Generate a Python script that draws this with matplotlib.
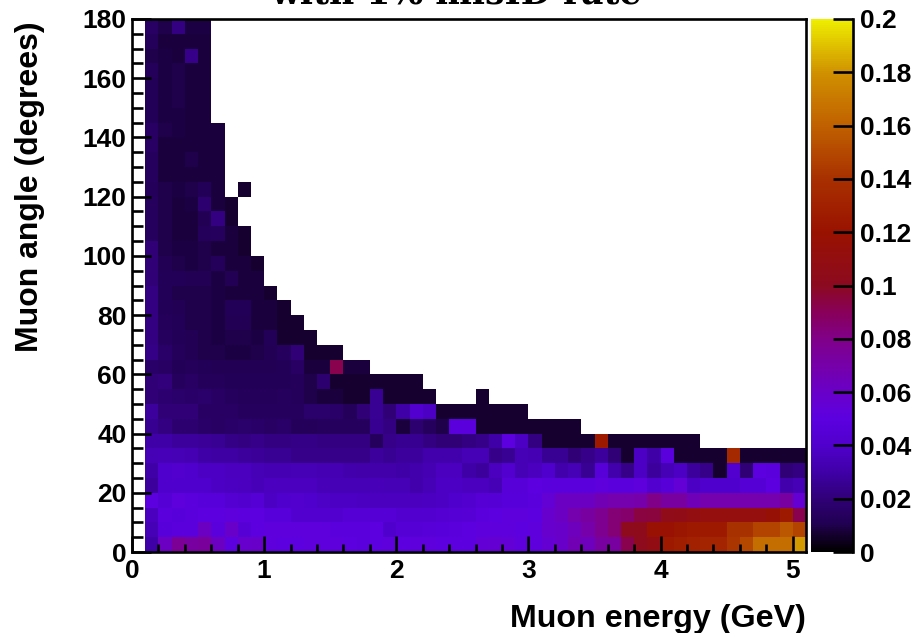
import numpy as np
import matplotlib
matplotlib.use("Agg")
import matplotlib.pyplot as plt
from matplotlib.colors import LinearSegmentedColormap
from matplotlib.ticker import MultipleLocator

n = None
x_edges_start = 0.1
x_bin = 0.1
y_bin = 5
# values x 1000, rows from the top of the plot (175-180 deg) down to 0-5 deg
rows = [
 [15,10,22,9,9],
 [13,8,8,8,8],
 [10,9,8,24,8],
 [13,9,10,8,8],
 [12,9,10,8,8],
 [12,9,10,8,8],
 [12,9,9,8,8],
 [15,10,9,8,8,8],
 [15,8,8,8,8,8],
 [14,8,8,10,8,8],
 [14,8,8,8,8,8],
 [13,10,9,10,12,8,n,7],
 [14,10,8,9,18,8,7],
 [14,10,8,8,11,22,7],
 [14,10,8,8,13,14,8,7],
 [20,10,9,9,10,8,8,7],
 [20,11,10,9,10,13,8,8,7],
 [20,12,12,11,11,9,11,8,8],
 [22,12,10,10,10,9,8,8,8,7],
 [22,12,11,10,10,9,12,12,8,8,7],
 [22,13,12,10,10,9,11,11,8,8,7,7],
 [22,14,12,11,10,9,10,10,9,12,7,7,7],
 [23,16,13,11,10,10,9,9,10,11,14,20,7,7,7],
 [16,15,12,13,12,11,11,11,11,11,12,15,8,8,92,8,8],
 [20,21,14,15,13,13,12,12,12,12,12,13,10,18,7,7,7,7,7,7,7],
 [20,18,17,16,17,15,14,13,13,13,14,13,10,8,8,7,7,26,7,7,7,7,n,n,n,7],
 [28,20,20,20,15,15,15,14,14,14,14,14,17,17,16,13,20,26,20,30,42,38,7,7,7,7,7,7,7],
 [25,22,18,18,16,15,16,17,16,15,16,13,13,14,14,14,14,25,22,8,18,14,10,48,48,7,7,7,7,7,7,7,7],
 [30,30,28,28,27,26,23,22,24,22,22,23,23,22,22,22,22,14,24,25,25,22,20,20,22,24,30,50,38,22,7,7,7,7,125,7,7,7,7,7,7,7],
 [34,35,34,33,30,29,29,28,27,26,26,24,24,24,24,24,24,28,26,28,28,32,32,32,34,34,24,26,34,33,26,26,20,24,28,20,7,38,30,48,7,7,7,7,135,7,7,7,7,7],
 [30,40,41,40,38,38,36,36,34,33,33,34,34,33,33,32,31,31,31,30,32,33,36,36,30,28,36,42,34,36,40,32,34,26,46,32,24,38,28,34,38,28,24,7,42,20,50,48,20,22],
 [28,40,40,40,40,38,37,36,35,36,36,36,36,35,34,34,34,35,34,34,32,34,38,38,36,36,34,46,46,50,49,49,49,48,52,48,48,52,42,46,54,38,40,40,40,44,44,50,32,34],
 [50,44,52,48,47,47,43,42,44,38,40,41,40,39,38,38,37,36,36,36,36,37,38,40,42,45,44,47,47,48,55,62,62,62,66,68,68,70,80,72,72,65,68,68,68,68,68,68,72,56],
 [36,48,47,48,50,50,52,51,50,47,47,42,42,42,42,44,44,44,44,42,42,42,43,44,45,48,50,52,52,50,58,62,68,72,78,84,86,94,95,105,106,110,112,112,112,112,112,116,125,92],
 [34,47,48,48,62,48,60,45,50,52,52,52,52,52,48,48,48,50,40,44,44,46,47,48,50,52,52,52,50,52,58,60,64,70,78,84,102,103,118,118,122,125,125,125,140,140,148,148,156,148],
 [30,62,76,72,74,62,50,58,60,52,50,50,52,52,52,50,48,50,52,50,52,52,50,50,50,54,56,54,52,52,56,60,66,64,72,72,92,102,108,125,128,130,132,132,142,150,165,165,165,182],
]
x_ticks = [0, 1, 2, 3, 4, 5]
y_ticks = [0, 20, 40, 60, 80, 100, 120, 140, 160, 180]
c_ticks = [0, .02, .04, .06, .08, .1, .12, .14, .16, .18, .2]
c_labels = ['0','0.02','0.04','0.06','0.08','0.1','0.12','0.14','0.16','0.18','0.2']
palette_pos = [0, .035, .05, .1, .15, .2, .25, .3, .35, .4, .45, .5, .6, .7, .8, .9, 1]
palette_col = ['#000000','#180036','#200050','#300078','#4000a8','#5000cc','#5c00e0','#6a00c8','#7600a8','#800088',
               '#880058','#8c0a20','#991200','#a83000','#c06000','#d09000','#eeee00']

F = 'Liberation Sans'
W, H = 917, 633
fig = plt.figure(figsize=(W/100, H/100), dpi=100)
ax = fig.add_axes([132/W, 1-552/H, (806-132)/W, (552-19)/H])

Z = np.full((36, 50), np.nan)
for i, r in enumerate(rows):
    for j, v in enumerate(r):
        if v is not None:
            Z[35-i, j] = v/1000
xe = x_edges_start + x_bin*np.arange(51)
ye = y_bin*np.arange(37)
cmap = LinearSegmentedColormap.from_list('pal', list(zip(palette_pos, palette_col)), N=256)
m = ax.pcolormesh(xe, ye, Z, cmap=cmap, vmin=0, vmax=0.2, linewidth=0, rasterized=True)
ax.set_xlim(0, 5.1); ax.set_ylim(0, 180)
for s in ax.spines.values():
    s.set_linewidth(1.9); s.set_zorder(5)
ax.xaxis.set_minor_locator(MultipleLocator(0.2))
ax.yaxis.set_minor_locator(MultipleLocator(5))
ax.set_xticks(x_ticks); ax.set_yticks(y_ticks)
ax.tick_params(axis='x', which='major', direction='in', length=11.5, width=1.9, pad=5, labelsize=19)
ax.tick_params(axis='x', which='minor', direction='in', length=5.8, width=1.9)
ax.tick_params(axis='y', which='major', direction='in', length=14, width=1.9, pad=4, labelsize=19)
ax.tick_params(axis='y', which='minor', direction='in', length=8, width=1.9)
for t in ax.get_xticklabels()+ax.get_yticklabels():
    t.set_fontfamily(F); t.set_fontweight('bold')
ax.set_axisbelow(False)

cax = fig.add_axes([811/W, 1-552/H, (853-811)/W, (552-19)/H])
cb = fig.colorbar(m, cax=cax)
cb.outline.set_visible(False)
cax.spines['right'].set_visible(True)
cax.spines['right'].set_linewidth(1.9)
cb.set_ticks(c_ticks); cb.set_ticklabels(c_labels)
cax.tick_params(axis='y', which='major', direction='in', length=14.5, width=1.9, pad=5, labelsize=19, right=True)
cax.minorticks_off()
for t in cax.get_yticklabels():
    t.set_fontfamily(F); t.set_fontweight('bold')

fig.text(806/W, 1-619/H, 'Muon energy (GeV)', ha='right', va='center', family=F, weight='bold', fontsize=23.2)
fig.text(30/W, 1-187/H, 'Muon angle (degrees)', ha='center', va='center', rotation=90, family=F, weight='bold', fontsize=23)
fig.text(456/W, 1-3/H, 'with 1% misID rate', ha='center', va='baseline', family='DejaVu Serif', weight='bold', fontsize=24.9)
fig.savefig('out.png', dpi=100)
